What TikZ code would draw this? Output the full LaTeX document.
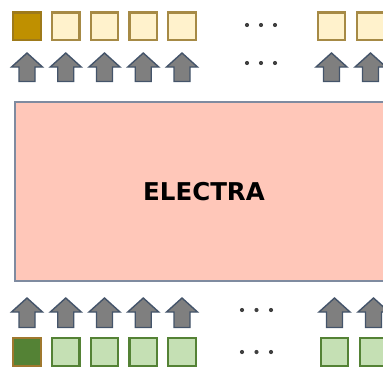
\documentclass[tikz,border=0pt]{standalone}
\usepackage{fontspec}
\setsansfont{DejaVu Sans}
\definecolor{gdark}{HTML}{BF9000}
\definecolor{gdarkb}{HTML}{9E7A1A}
\definecolor{glight}{HTML}{FFF2CC}
\definecolor{glightb}{HTML}{A68A45}
\definecolor{vdark}{HTML}{548235}
\definecolor{vdarkb}{HTML}{A0782E}
\definecolor{vlight}{HTML}{C5E0B4}
\definecolor{vlightb}{HTML}{548235}
\definecolor{arrfill}{HTML}{7F7F7F}
\definecolor{arrline}{HTML}{44546A}
\definecolor{boxfill}{HTML}{FFC7B9}
\definecolor{boxline}{HTML}{7F8BA0}
\definecolor{dotc}{HTML}{404040}
\tikzset{
  sq/.style={draw, line width=2.2pt, minimum size=27.5pt, inner sep=0pt},
  topdark/.style={sq, fill=gdark, draw=gdarkb},
  toplight/.style={sq, fill=glight, draw=glightb},
  botdark/.style={sq, fill=vdark, draw=vdarkb},
  botlight/.style={sq, fill=vlight, draw=vlightb},
  uparr/.style={fill=arrfill, draw=arrline, line width=1.4pt, line join=miter},
  dotmark/.style={fill=dotc},
  bigbox/.style={draw=boxline, fill=boxfill, line width=1.8pt, minimum width=380pt, minimum height=179pt, inner sep=0pt}
}
\begin{document}
\begin{tikzpicture}[x=1pt,y=-1pt]
\useasboundingbox (0,0) rectangle (383,367);
\clip (0,0) rectangle (383,367);
% main box
\node[bigbox] (electra) at (205,191.5) {};
\node[font=\sffamily\bfseries\fontsize{24.5}{28}\selectfont, inner sep=0pt] (lbl) at (204,192) {ELECTRA};
% top squares
\node[topdark] (t1) at (27,26.3) {};
\foreach \x [count=\i from 2] in {65.75,104.5,143.25,182,331.5,370.5}
  \node[toplight] (t\i) at (\x,26.3) {};
% bottom squares
\node[botdark] (b1) at (27,352) {};
\foreach \x [count=\i from 2] in {65.75,104.5,143.25,182,334.5,373.5}
  \node[botlight] (b\i) at (\x,352) {};
% top arrows
\foreach \x in {27,65.75,104.5,143.25,182,331.5,370.5}
  \draw[uparr] (\x-8,81.5) -- (\x-8,67) -- (\x-15.5,67) -- (\x,53) -- (\x+15.5,67) -- (\x+8,67) -- (\x+8,81.5) -- cycle;
% bottom arrows
\foreach \x in {27,65.75,104.5,143.25,182,334.5,373.5}
  \draw[uparr] (\x-8,327.5) -- (\x-8,312) -- (\x-15.5,312) -- (\x,298) -- (\x+15.5,312) -- (\x+8,312) -- (\x+8,327.5) -- cycle;
% dots
\foreach \x in {247,261,275} {
  \fill[dotmark] (\x,25) circle (2.1);
  \fill[dotmark] (\x,63) circle (2.1);
}
\foreach \x in {242,256.5,271} {
  \fill[dotmark] (\x,310) circle (2.1);
  \fill[dotmark] (\x,352) circle (2.1);
}
\end{tikzpicture}
\end{document}
